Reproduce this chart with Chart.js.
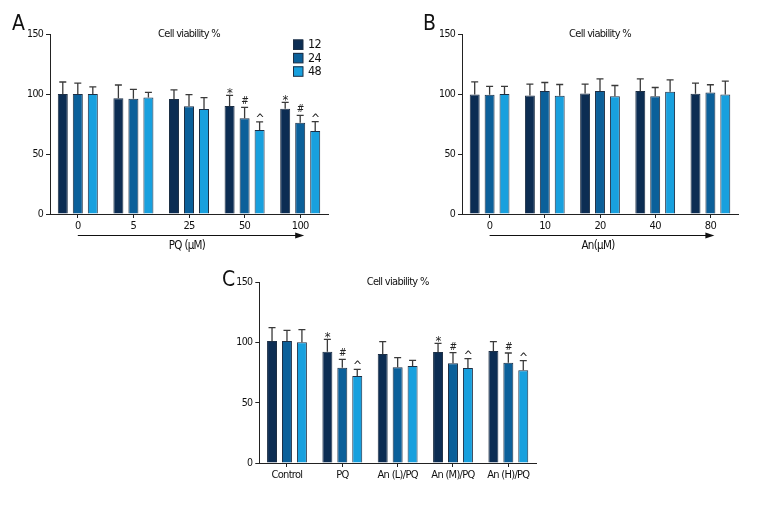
<!DOCTYPE html>
<html><head><meta charset="utf-8">
<script src="https://cdn.jsdelivr.net/npm/chart.js@4/dist/chart.umd.min.js"></script>
<style>
html,body{margin:0;padding:0;background:#fff;width:768px;height:510px;overflow:hidden;position:relative}
canvas{position:absolute}
</style></head><body>
<canvas id="cA" width="384" height="260" style="left:0;top:0"></canvas>
<canvas id="cB" width="384" height="260" style="left:384px;top:0"></canvas>
<canvas id="cC" width="384" height="260" style="left:200px;top:249px"></canvas>
<script>
// ---- data ----
const seriesNames = ['12', '24', '48'];
const colors = ['#0c2d53', '#0b609a', '#18a0de'];

// Panel A: PQ dose
const pqLabels = ['0', '5', '25', '50', '100'];
const pqMean12 = [100, 96.5, 95.8, 90, 87.7];
const pqMean24 = [100, 96, 89.7, 79.7, 76.1];
const pqMean48 = [100, 97.1, 87.5, 70, 69.2];
const pqSd12 = [10, 11, 7.7, 8.8, 5.3];
const pqSd24 = [9, 7.8, 9.7, 9.1, 6.1];
const pqSd48 = [6, 4.2, 9.4, 6.7, 7.7];
const pqMark12 = ['', '', '', '*', '*'];
const pqMark24 = ['', '', '', '#', '#'];
const pqMark48 = ['', '', '', '^', '^'];

// Panel B: An dose
const anLabels = ['0', '10', '20', '40', '80'];
const anMean12 = [99.6, 98.8, 100.5, 102.4, 100.2];
const anMean24 = [99.3, 102.4, 102.4, 98.2, 101.3];
const anMean48 = [99.9, 98.5, 98.2, 101.8, 99.6];
const anSd12 = [10.5, 9.4, 7.7, 10.2, 8.8];
const anSd24 = [7, 7.2, 10.2, 7.2, 6.4];
const anSd48 = [6.4, 9.4, 8.9, 10, 11.1];

// Panel C: treatment groups
const grpLabels = ['Control', 'PQ', 'An (L)/PQ', 'An (M)/PQ', 'An (H)/PQ'];
const grpMean12 = [101.3, 92.4, 90.5, 92.2, 93];
const grpMean24 = [101.3, 79.1, 79.4, 82.7, 83.3];
const grpMean48 = [100.2, 72.2, 80.5, 78.9, 76.9];
const grpSd12 = [11.1, 10.3, 10.2, 7.1, 7.7];
const grpSd24 = [8.8, 7, 8.1, 8.9, 8];
const grpSd48 = [10.5, 5.5, 4.7, 7.7, 8];
const grpMark12 = ['', '*', '', '*', ''];
const grpMark24 = ['', '#', '', '#', '#'];
const grpMark48 = ['', '^', '', '^', '^'];

const yTicks = [0, 50, 100, 150];
const titleText = 'Cell viability %';

// ---- drawing ----
const FF = '"Liberation Sans Narrow", "DejaVu Sans Condensed", Arial, sans-serif';
const LS = '-0.7px';
Chart.defaults.font.family = FF;
Chart.defaults.color = '#111';

const decor = {
  id: 'decor',
  beforeDraw(chart) {
    if ('letterSpacing' in chart.ctx) chart.ctx.letterSpacing = LS;
  },
  afterDatasetsDraw(chart, args, o) {
    const ctx = chart.ctx, ys = chart.scales.y, xs = chart.scales.x, ca = chart.chartArea;
    ctx.save();
    if ('letterSpacing' in ctx) ctx.letterSpacing = LS;
    chart.data.datasets.forEach((ds, di) => {
      const meta = chart.getDatasetMeta(di);
      meta.data.forEach((bar, i) => {
        const top = ys.getPixelForValue(ds.data[i] + ds.sd[i]);
        ctx.strokeStyle = '#3a3a3a'; ctx.lineWidth = 1.3;
        ctx.beginPath();
        ctx.moveTo(bar.x, bar.y); ctx.lineTo(bar.x, top);
        ctx.moveTo(bar.x - 3.5, top); ctx.lineTo(bar.x + 3.5, top);
        ctx.stroke();
        const m = ds.marks ? ds.marks[i] : '';
        if (m) {
          ctx.fillStyle = '#222'; ctx.textAlign = 'center'; ctx.textBaseline = 'alphabetic';
          if (m === '*') { ctx.font = '13px ' + FF; ctx.fillText(m, bar.x, top + 2); }
          else if (m === '#') { ctx.font = '10px ' + FF; ctx.fillText(m, bar.x, top - 3); }
          else { ctx.font = '12px ' + FF; ctx.fillText(m, bar.x, top + 1); }
        }
      });
    });
    // title
    ctx.fillStyle = '#111'; ctx.font = '11px ' + FF; ctx.textAlign = 'center'; ctx.textBaseline = 'middle';
    ctx.fillText(titleText, (ca.left + ca.right) / 2, ca.top);
    // panel letter
    ctx.font = '21px ' + FF; ctx.textAlign = 'left'; ctx.textBaseline = 'alphabetic';
    ctx.fillText(o.letter.t, o.letter.x, o.letter.y);
    // arrow + axis title
    if (o.xTitle) {
      const x0 = xs.getPixelForValue(0), x1 = xs.getPixelForValue(xs.ticks.length - 1) + 2;
      const ay = ca.bottom + 21.5;
      ctx.strokeStyle = '#111'; ctx.lineWidth = 1.2;
      ctx.beginPath(); ctx.moveTo(x0, ay); ctx.lineTo(x1 - 6, ay); ctx.stroke();
      ctx.fillStyle = '#111';
      ctx.beginPath(); ctx.moveTo(x1 + 2, ay); ctx.lineTo(x1 - 7, ay - 3); ctx.lineTo(x1 - 7, ay + 3); ctx.closePath(); ctx.fill();
      ctx.font = '11.5px ' + FF; ctx.textAlign = 'center'; ctx.textBaseline = 'middle';
      ctx.fillText(o.xTitle, (ca.left + ca.right) / 2 - 2, ca.bottom + 32.5);
    }
    // legend
    if (o.legend) {
      chart.data.datasets.forEach((ds, di) => {
        const y = 39.5 + di * 13.4;
        ctx.fillStyle = ds.backgroundColor; ctx.fillRect(293, y, 10, 10);
        ctx.strokeStyle = '#1d2f45'; ctx.lineWidth = 1; ctx.strokeRect(293.5, y + 0.5, 9.5, 9.5);
        ctx.fillStyle = '#111'; ctx.font = '12.5px ' + FF; ctx.textAlign = 'left'; ctx.textBaseline = 'middle';
        ctx.fillText(ds.label, 308, y + 5.5);
      });
    }
    ctx.restore();
  }
};

function makeDs(means, sds, marks) {
  return means.map((m, k) => ({
    label: seriesNames[k], data: m, sd: sds[k], marks: marks ? marks[k] : null,
    backgroundColor: colors[k], borderColor: '#1d2f45', borderWidth: 1, borderSkipped: 'bottom',
    categoryPercentage: 0.81, barPercentage: 0.667
  }));
}

function makeChart(id, labels, datasets, pad, yWidth, decorOpts) {
  return new Chart(document.getElementById(id), {
    type: 'bar',
    data: { labels: labels, datasets: datasets },
    options: {
      responsive: false, animation: false,
      layout: { padding: pad },
      plugins: { legend: { display: false }, tooltip: { enabled: false }, decor: decorOpts },
      scales: {
        x: {
          offset: true,
          grid: { display: true, drawOnChartArea: false, drawTicks: true, tickLength: 4, offset: false, color: '#222', lineWidth: 1 },
          border: { display: true, color: '#222', width: 1 },
          ticks: { color: '#111', font: { size: 11 }, padding: 2, maxRotation: 0, autoSkip: false },
          afterFit(s) { s.height = 46; }
        },
        y: {
          min: 0, max: 150,
          grid: { drawOnChartArea: false, drawTicks: true, tickLength: 4, color: '#222', lineWidth: 1 },
          border: { display: true, color: '#222', width: 1 },
          afterBuildTicks(s) { s.ticks = yTicks.map(v => ({ value: v })); },
          ticks: { color: '#111', font: { size: 10.5 }, padding: 3 },
          afterFit(s) { s.width = yWidth; }
        }
      }
    },
    plugins: [decor]
  });
}

makeChart('cA', pqLabels,
  makeDs([pqMean12, pqMean24, pqMean48], [pqSd12, pqSd24, pqSd48], [pqMark12, pqMark24, pqMark48]),
  { top: 34, right: 56, left: 0, bottom: 0 }, 50,
  { letter: { t: 'A', x: 12, y: 30 }, xTitle: 'PQ (\u03bcM)', legend: true });

makeChart('cB', anLabels,
  makeDs([anMean12, anMean24, anMean48], [anSd12, anSd24, anSd48], null),
  { top: 34, right: 30, left: 28, bottom: 0 }, 50,
  { letter: { t: 'B', x: 39, y: 30 }, xTitle: 'An(\u03bcM)', legend: false });

makeChart('cC', grpLabels,
  makeDs([grpMean12, grpMean24, grpMean48], [grpSd12, grpSd24, grpSd48], [grpMark12, grpMark24, grpMark48]),
  { top: 33.3, right: 48, left: 9.3, bottom: 0 }, 50,
  { letter: { t: 'C', x: 22, y: 37 }, xTitle: null, legend: false });
</script>
</body></html>
